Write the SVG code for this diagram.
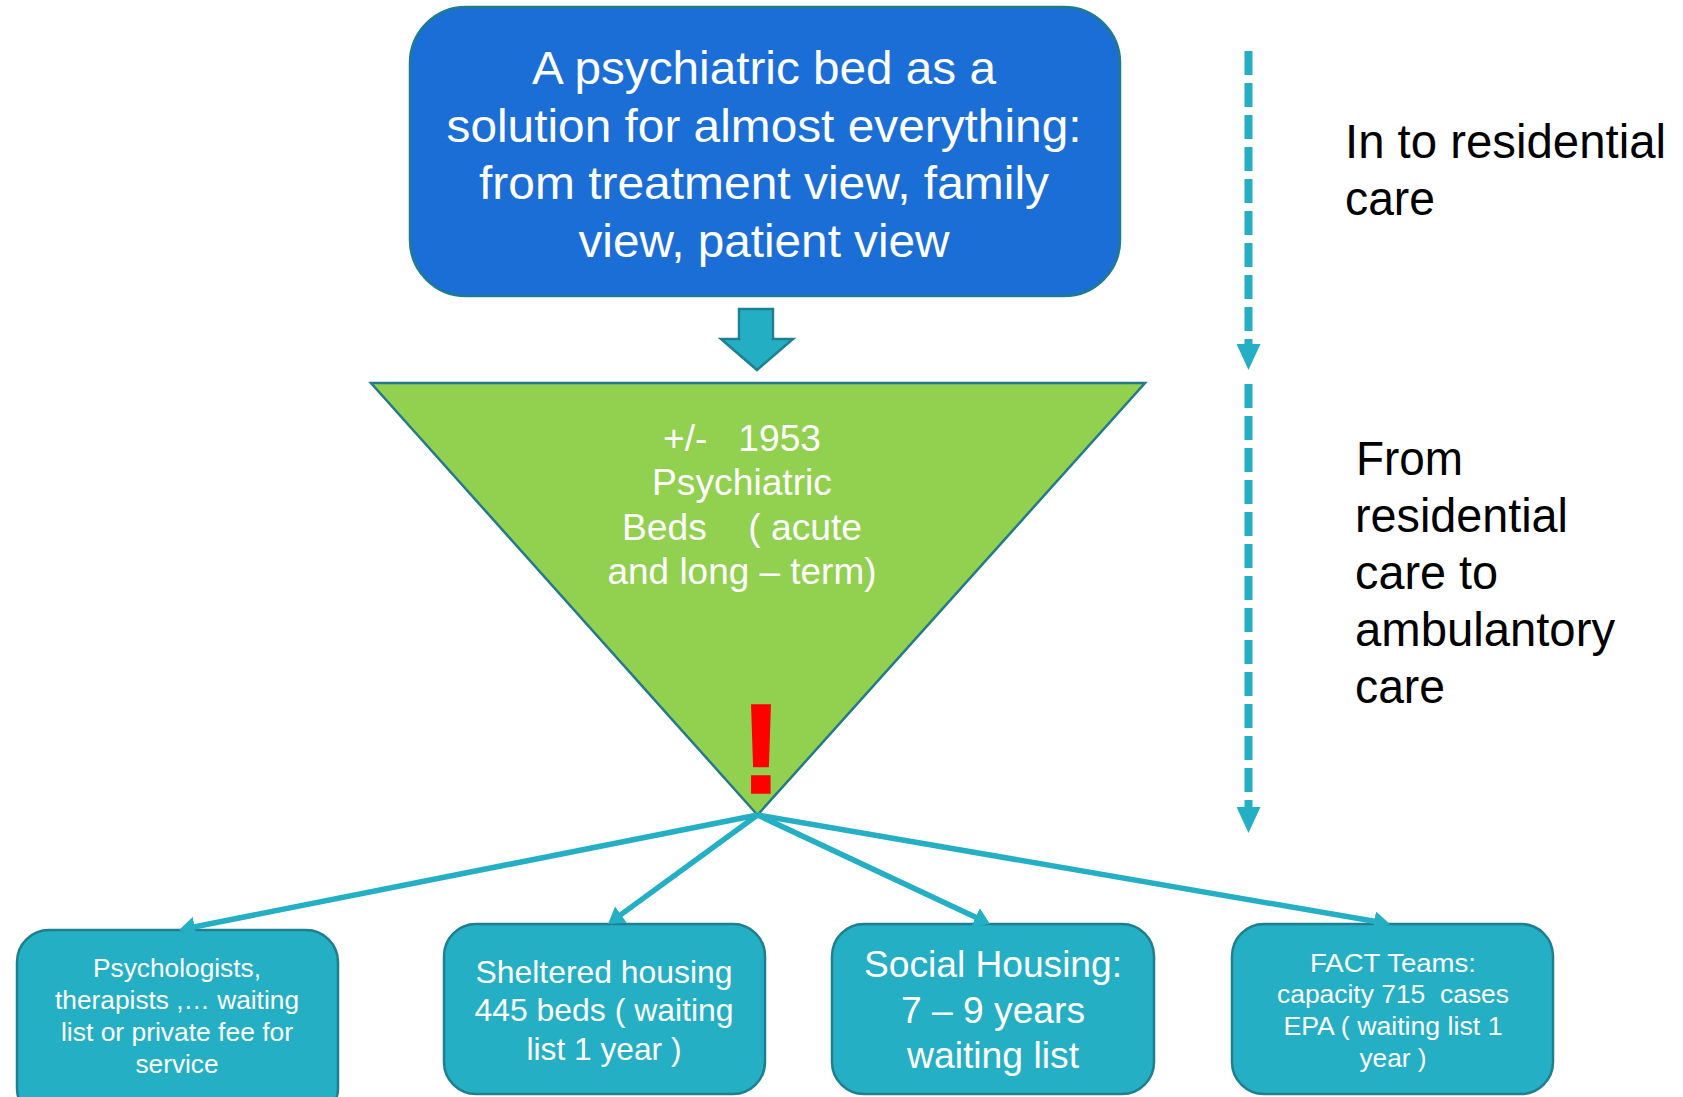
<svg xmlns="http://www.w3.org/2000/svg" width="1683" height="1097" viewBox="0 0 1683 1097">
  <style>
    .wt { font-family: "Liberation Sans", Arial, sans-serif; fill: #ffffff; text-anchor: middle; white-space: pre; }
    .bk { font-family: "Liberation Sans", Arial, sans-serif; fill: #000000; white-space: pre; }
    .teal { fill: #24afc4; stroke: #1e7f90; stroke-width: 2.5; }
    .conn { fill: none; stroke: #24afc4; stroke-width: 5.5; marker-end: url(#head); }
    .dash { fill: none; stroke: #24afc4; stroke-width: 8; stroke-dasharray: 24 8; marker-end: url(#dhead); }
  </style>
  <defs>
    <marker id="head" markerUnits="userSpaceOnUse" viewBox="0 0 16 20" markerWidth="16" markerHeight="20" refX="6" refY="10" orient="auto">
      <path d="M0,0 L16,10 L0,20 z" fill="#24afc4"/>
    </marker>
    <marker id="dhead" markerUnits="userSpaceOnUse" viewBox="0 0 26 24" markerWidth="26" markerHeight="24" refX="1" refY="12" orient="auto">
      <path d="M0,0 L26,12 L0,24 z" fill="#24afc4"/>
    </marker>
  </defs>

  <rect width="1683" height="1097" fill="#ffffff"/>

  <!-- top statement box -->
  <g id="bed-solution">
    <rect x="410" y="7" width="710" height="289" rx="56" ry="56" fill="#1b6ed6" stroke="#1e7c8e" stroke-width="2.5"/>
    <text class="wt" font-size="47" x="764" y="84" textLength="464" lengthAdjust="spacingAndGlyphs">A psychiatric bed as a</text>
    <text class="wt" font-size="47" x="764" y="141.5" textLength="635" lengthAdjust="spacingAndGlyphs">solution for almost everything:</text>
    <text class="wt" font-size="47" x="764" y="199" textLength="570" lengthAdjust="spacingAndGlyphs">from treatment view, family</text>
    <text class="wt" font-size="47" x="764" y="256.5" textLength="371" lengthAdjust="spacingAndGlyphs">view, patient view</text>
  </g>

  <!-- block arrow down -->
  <g id="down-arrow">
    <polygon points="739,309 773,309 773,339 793,339 757,370 721,339 739,339" fill="#24aec3" stroke="#1e7f90" stroke-width="2.5"/>
  </g>

  <!-- inverted triangle -->
  <g id="beds">
    <polygon points="371,383 1145,383 757.5,815" fill="#92d050" stroke="#247a8a" stroke-width="2.5"/>
    <text class="wt" font-size="37" x="742" y="451" textLength="158" lengthAdjust="spacingAndGlyphs" xml:space="preserve">+/-   1953</text>
    <text class="wt" font-size="37" x="742" y="495" textLength="180" lengthAdjust="spacingAndGlyphs">Psychiatric</text>
    <text class="wt" font-size="37" x="742" y="540" textLength="240" lengthAdjust="spacingAndGlyphs" xml:space="preserve">Beds    ( acute</text>
    <text class="wt" font-size="37" x="742" y="584" textLength="269" lengthAdjust="spacingAndGlyphs">and long – term)</text>
    <text x="761" y="793" font-family="Liberation Sans, Arial, sans-serif" font-weight="bold" font-size="128" fill="#ff0000" stroke="#ff0000" stroke-width="1.5" text-anchor="middle">!</text>
  </g>

  <!-- side annotations -->
  <g id="into-residential">
    <text class="bk" font-size="48" x="1345" y="158" textLength="321" lengthAdjust="spacingAndGlyphs">In to residential</text>
    <text class="bk" font-size="48" x="1345" y="215" textLength="90" lengthAdjust="spacingAndGlyphs">care</text>
  </g>
  <g id="to-ambulatory">
    <text class="bk" font-size="48" x="1356" y="474.5" textLength="107" lengthAdjust="spacingAndGlyphs">From</text>
    <text class="bk" font-size="48" x="1355" y="531.5" textLength="213" lengthAdjust="spacingAndGlyphs">residential</text>
    <text class="bk" font-size="48" x="1355" y="588.5" textLength="143" lengthAdjust="spacingAndGlyphs">care to</text>
    <text class="bk" font-size="48" x="1355" y="645.5" textLength="260" lengthAdjust="spacingAndGlyphs">ambulantory</text>
    <text class="bk" font-size="48" x="1355" y="702.5" textLength="90" lengthAdjust="spacingAndGlyphs">care</text>
  </g>

  <!-- services -->
  <g id="psychologists">
    <rect class="teal" x="17" y="930" width="321" height="190" rx="32" ry="32"/>
    <text class="wt" font-size="26" x="177" y="977" textLength="168" lengthAdjust="spacingAndGlyphs">Psychologists,</text>
    <text class="wt" font-size="26" x="177" y="1009" textLength="244" lengthAdjust="spacingAndGlyphs">therapists ,… waiting</text>
    <text class="wt" font-size="26" x="177" y="1041" textLength="232" lengthAdjust="spacingAndGlyphs">list or private fee for</text>
    <text class="wt" font-size="26" x="177" y="1073" textLength="83" lengthAdjust="spacingAndGlyphs">service</text>
  </g>
  <g id="sheltered-housing">
    <rect class="teal" x="444" y="924" width="321" height="170" rx="32" ry="32"/>
    <text class="wt" font-size="32" x="604" y="983" textLength="257" lengthAdjust="spacingAndGlyphs">Sheltered housing</text>
    <text class="wt" font-size="32" x="604" y="1021" textLength="259" lengthAdjust="spacingAndGlyphs">445 beds ( waiting</text>
    <text class="wt" font-size="32" x="604" y="1059.5" textLength="155" lengthAdjust="spacingAndGlyphs">list 1 year )</text>
  </g>
  <g id="social-housing">
    <rect class="teal" x="832" y="924" width="322" height="170" rx="32" ry="32"/>
    <text class="wt" font-size="37" x="993" y="977" textLength="258" lengthAdjust="spacingAndGlyphs">Social Housing:</text>
    <text class="wt" font-size="37" x="993" y="1022.5" textLength="184" lengthAdjust="spacingAndGlyphs">7 – 9 years</text>
    <text class="wt" font-size="37" x="993" y="1068" textLength="172" lengthAdjust="spacingAndGlyphs">waiting list</text>
  </g>
  <g id="fact-teams">
    <rect class="teal" x="1232" y="924" width="321" height="170" rx="32" ry="32"/>
    <text class="wt" font-size="26.5" x="1393" y="972" textLength="166" lengthAdjust="spacingAndGlyphs">FACT Teams:</text>
    <text class="wt" font-size="26.5" x="1393" y="1003" textLength="232" lengthAdjust="spacingAndGlyphs" xml:space="preserve">capacity 715  cases</text>
    <text class="wt" font-size="26.5" x="1393" y="1035" textLength="219" lengthAdjust="spacingAndGlyphs">EPA ( waiting list 1</text>
    <text class="wt" font-size="26.5" x="1393" y="1067" textLength="67" lengthAdjust="spacingAndGlyphs">year )</text>
  </g>

  <!-- connectors -->
  <g id="connectors">
    <path class="conn" d="M757.5,815 L188.8,928"/>
    <path class="conn" d="M757.5,815 L616.1,918.1"/>
    <path class="conn" d="M757.5,815 L981,919.8"/>
    <path class="conn" d="M757.5,815 L1380.1,922.3"/>
    <path class="dash" d="M1248.5,51 L1248.5,345"/>
    <path class="dash" d="M1248.5,384 L1248.5,808"/>
  </g>
</svg>
